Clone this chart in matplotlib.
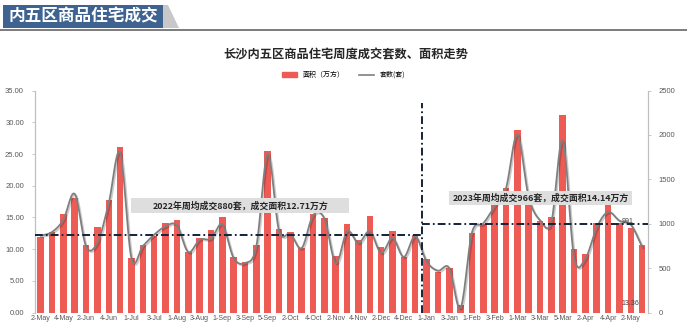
"""
长沙内五区商品住宅周度成交套数、面积走势 — weekly area (bars) + sets (smoothed line)
"""
import matplotlib
matplotlib.use("Agg")
import matplotlib.pyplot as plt
import matplotlib.patches as mpatches
import matplotlib.patheffects as pe
from matplotlib.lines import Line2D
import numpy as np

plt.rcParams["font.family"] = ["Liberation Sans", "Noto Sans CJK SC", "DejaVu Sans"]

# ── Data ──────────────────────────────────────────────────────────
weeks = ["2-May", "3-May", "4-May", "1-Jun", "2-Jun", "3-Jun", "4-Jun", "5-Jun",
         "1-Jul", "2-Jul", "3-Jul", "4-Jul", "1-Aug", "2-Aug", "3-Aug", "4-Aug",
         "1-Sep", "2-Sep", "3-Sep", "4-Sep", "5-Sep", "1-Oct", "2-Oct", "3-Oct",
         "4-Oct", "1-Nov", "2-Nov", "3-Nov", "4-Nov", "1-Dec", "2-Dec", "3-Dec",
         "4-Dec", "5-Dec", "1-Jan", "2-Jan", "3-Jan", "4-Jan", "1-Feb", "2-Feb",
         "3-Feb", "4-Feb", "1-Mar", "2-Mar", "3-Mar", "4-Mar", "5-Mar", "1-Apr",
         "2-Apr", "3-Apr", "4-Apr", "1-May", "2-May", "3-May"]

area = [12.0, 12.7, 15.5, 18.1, 10.6, 13.5, 17.7, 26.1,
        8.6, 10.7, 12.1, 14.1, 14.6, 9.6, 11.8, 13.0,
        15.0, 8.7, 8.0, 10.6, 25.4, 13.2, 12.7, 10.2,
        15.5, 14.9, 8.9, 14.0, 11.5, 15.2, 10.3, 12.9,
        8.8, 12.3, 8.5, 6.4, 7.1, 1.2, 12.6, 14.0,
        16.9, 19.7, 28.8, 17.0, 14.4, 15.0, 31.2, 10.0,
        9.3, 14.1, 17.2, 14.1, 13.36, 10.6]

sets = [867, 908, 1047, 1336, 745, 790, 1235, 1800,
        610, 750, 878, 972, 983, 683, 822, 833,
        991, 616, 559, 747, 1785, 923, 886, 728,
        1096, 1059, 559, 916, 785, 916, 672, 841,
        627, 860, 578, 473, 503, 55, 900, 1005,
        1197, 1400, 2005, 1300, 1040, 1022, 1939, 625,
        610, 960, 1134, 1035, 991, 740]

avg_sets_2022 = 880
avg_sets_2023 = 1000     # drawn level of the 2023 reference line
year_split = 33.6        # between 5-Dec and 1-Jan
split_top = 2360

note_2022 = "2022年周均成交880套，成交面积12.71万方"
note_2023 = "2023年周均成交966套，成交面积14.14万方"

BAR_C = "#EE5A54"
LINE_C = "#7F7F7F"
REF_C = "#14233A"
TXT_C = "#595959"
CJK = ["Noto Sans CJK SC", "DejaVu Sans"]


def catmull_rom(xs, ys, n=16):
    """Smoothed path through the points (like Excel's smoothed line)."""
    p = np.column_stack([xs, ys]).astype(float)
    p = np.vstack([p[0], p, p[-1]])
    out = []
    t = np.linspace(0, 1, n, endpoint=False)[:, None]
    for i in range(1, len(p) - 2):
        p0, p1, p2, p3 = p[i - 1], p[i], p[i + 1], p[i + 2]
        seg = 0.5 * (2 * p1 + (-p0 + p2) * t
                     + (2 * p0 - 5 * p1 + 4 * p2 - p3) * t ** 2
                     + (-p0 + 3 * p1 - 3 * p2 + p3) * t ** 3)
        out.append(seg)
    out.append(p[-2][None, :])
    out = np.vstack(out)
    return out[:, 0], out[:, 1]


# ── Layout ────────────────────────────────────────────────────────
fig = plt.figure(figsize=(6.87, 3.33), dpi=100, facecolor="white")
ax = fig.add_axes([0.051, 0.061, 0.892, 0.667])
ax2 = ax.twinx()
ax.set_zorder(1)
ax2.set_zorder(2)
ax.patch.set_visible(False)
ax2.patch.set_visible(False)

x = np.arange(len(weeks))

# bars
ax.bar(x, area, width=0.58, color=BAR_C, zorder=2)
ax.set_xlim(-0.5, len(weeks) - 0.5)
ax.set_ylim(0, 35)
ax.set_yticks(np.arange(0, 36, 5))
ax.set_yticklabels([f"{v:.2f}" for v in np.arange(0, 36, 5)])
ax.set_xticks(x[::2])
ax.set_xticklabels(weeks[::2])

# smoothed sets line
sx, sy = catmull_rom(x, sets)
ax2.plot(sx, sy, color=LINE_C, lw=1.3, zorder=3,
         path_effects=[pe.SimpleLineShadow(offset=(1, -1), alpha=0.2), pe.Normal()])
ax2.set_ylim(0, 2500)
ax2.set_yticks(np.arange(0, 2501, 500))

# yearly average reference lines (dash-dot)
dd = (0, (4, 1.6, 0.9, 1.6))
ax2.plot([-0.5, year_split], [avg_sets_2022] * 2, color=REF_C, lw=1.4, ls=dd, zorder=4)
ax2.plot([year_split, year_split], [0, split_top], color=REF_C, lw=1.4, ls=dd, zorder=4)
ax2.plot([year_split, len(weeks) - 0.5], [avg_sets_2023] * 2, color=REF_C, lw=1.4, ls=dd, zorder=4)

# note boxes (in sets units on the right axis so they sit above the line)
k = 2500 / 35
for (x0, x1, y0, y1) in [(7.94, 27.2, 15.72, 18.08), (36.0, 52.1, 16.98, 19.19)]:
    ax2.add_patch(mpatches.Rectangle((x0, y0 * k), x1 - x0, (y1 - y0) * k,
                                     facecolor="#DEDEDE", edgecolor="none", zorder=5))
ax2.text(17.57, 16.9 * k, note_2022, ha="center", va="center", fontsize=6.4,
         color="#262626", zorder=6, family=CJK, fontweight="bold")
ax2.text(44.05, 18.08 * k, note_2023, ha="center", va="center", fontsize=6.4,
         color="#262626", zorder=6, family=CJK, fontweight="bold")

# point labels
ax2.text(51.75, 1021, "991", ha="center", va="center", fontsize=5, color="#404040", zorder=6)
ax.text(52, 1.5, f"{area[52]:.2f}", ha="center", va="center", fontsize=5, color="#404040", zorder=6)

# axis styling
for a in (ax, ax2):
    for side in ("top", "bottom"):
        a.spines[side].set_visible(False)
    a.spines["left"].set_color("#BFBFBF")
    a.spines["right"].set_color("#BFBFBF")
    a.tick_params(axis="y", colors=TXT_C, labelsize=5.5, length=2, width=0.6, pad=6)
    a.tick_params(axis="y", color="#BFBFBF")
ax.tick_params(axis="x", colors=TXT_C, labelsize=5.1, length=0, pad=2)

# ── Title & legend ────────────────────────────────────────────────
fig.text(0.503, 0.835, "长沙内五区商品住宅周度成交套数、面积走势", ha="center", va="center",
         fontsize=8.8, fontweight="bold", color="#262626", family=CJK)
handles = [mpatches.Patch(color=BAR_C, label="面积（万方）"),
           Line2D([], [], color=LINE_C, lw=1.2, label="套数(套)")]
fig.legend(handles=handles, loc="center", bbox_to_anchor=(0.5, 0.775), ncol=2,
           frameon=False, handlelength=2.2, handleheight=0.6,
           columnspacing=2.0, prop={"family": CJK, "size": 5})

# ── Header banner ─────────────────────────────────────────────────
fig.patches.append(mpatches.Rectangle((0, 0.908), 1, 0.006, transform=fig.transFigure,
                                      facecolor="#7F7F7F", edgecolor="none"))
fig.patches.append(mpatches.Polygon([(163 / 687, 1 - 5 / 333), (168 / 687, 1 - 5 / 333),
                                     (179 / 687, 1 - 28 / 333), (163 / 687, 1 - 28 / 333)],
                                    closed=True, transform=fig.transFigure,
                                    facecolor="#C8C8C8", edgecolor="none"))
fig.patches.append(mpatches.Rectangle((3 / 687, 1 - 28 / 333), 160 / 687, 23 / 333,
                                      transform=fig.transFigure,
                                      facecolor="#3F6391", edgecolor="none"))
fig.text(83 / 687, 1 - 16.5 / 333, "内五区商品住宅成交", ha="center", va="center",
         fontsize=12, fontweight="bold", color="white", family=CJK)

fig.savefig("out.png", dpi=100, facecolor="white")
